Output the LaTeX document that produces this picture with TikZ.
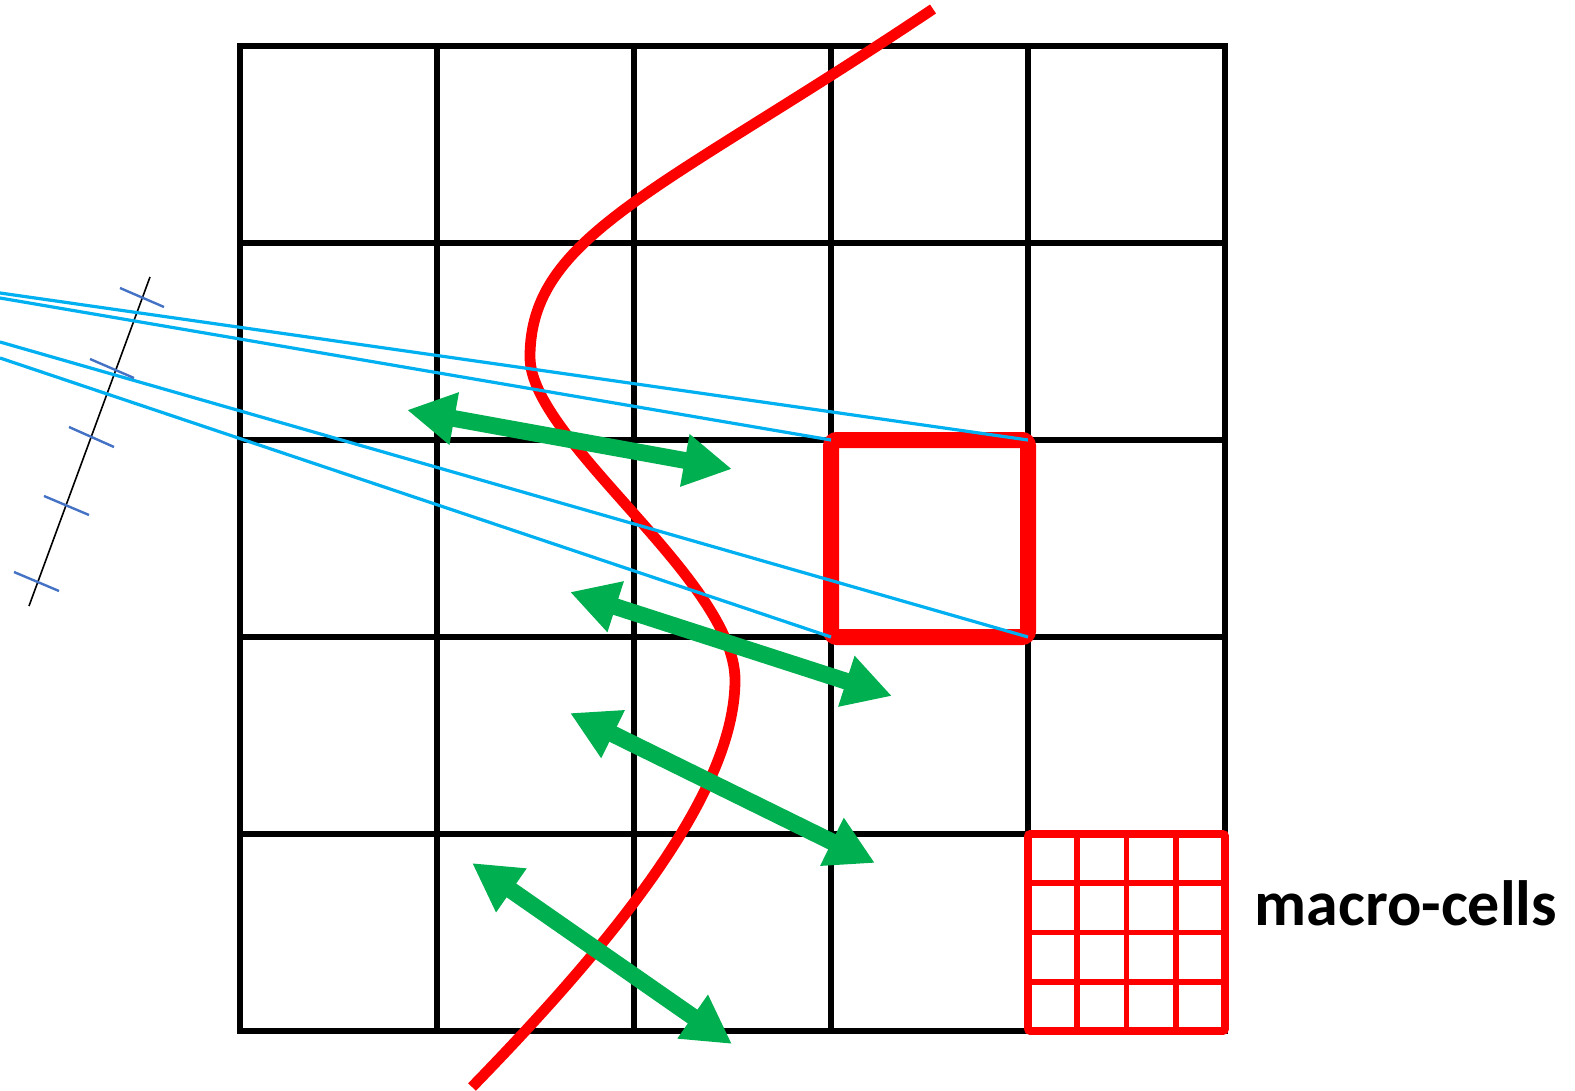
\documentclass[tikz,border=0pt]{standalone}
\usepackage{fontspec}
\setmainfont{Carlito}
\usepackage{tikz}
\usetikzlibrary{arrows.meta}
\definecolor{mred}{RGB}{255,0,0}
\definecolor{mgreen}{RGB}{0,176,80}
\definecolor{mblue}{RGB}{0,176,240}
\definecolor{mtick}{RGB}{68,114,196}

\begin{document}
\begin{tikzpicture}[
  x=0.5pt, y=-0.5pt,
  gline/.style={draw=black, line width=2.7pt, line cap=rect},
  mline/.style={draw=mred, line width=2.9pt},
  rayline/.style={draw=mblue, line width=1.6pt},
  tickline/.style={draw=mtick, line width=1.2pt},
  track/.style={draw=mred, line width=5.4pt},
  garr/.style={{Triangle[length=24pt,width=25pt]}-{Triangle[length=24pt,width=25pt]},
               draw=mgreen, fill=mgreen, line width=8.4pt},
  mlabel/.style={font=\bfseries\fontsize{32}{38}\selectfont, anchor=base},
]
  \useasboundingbox (0,0) rectangle (1575,1091);
  % 1. coarse grid
  \foreach \i in {0,...,5} {
    \draw[gline] ({240+197*\i},46) -- ({240+197*\i},1031);
    \draw[gline] (240,{46+197*\i}) -- (1225,{46+197*\i});
  }
  % 2. highlighted cell
  \coordinate (box-nw) at (831,440);
  \coordinate (box-ne) at (1028,440);
  \coordinate (box-sw) at (831,637);
  \coordinate (box-se) at (1028,637);
  \draw[draw=mred, line width=8pt, rounded corners=3pt]
    (box-nw) -- (box-ne) -- (box-se) -- (box-sw) -- cycle;
  % 3. macro-cells
  \foreach \k in {1,2,3} {
    \draw[mline] ({1028+49.25*\k},834) -- ({1028+49.25*\k},1031);
    \draw[mline] (1028,{834+49.25*\k}) -- (1225,{834+49.25*\k});
  }
  \draw[mline, line width=3.8pt, rounded corners=1pt] (1028,834) rectangle (1225,1031);
  \node[mlabel] (mlab) at (1406,925) {macro-cells};
  % 4. track
  \coordinate (trk-top) at (933,9);
  \coordinate (trk-l) at (530,357);
  \coordinate (trk-r) at (735,680);
  \coordinate (trk-bot) at (472,1087);
  \draw[track] (trk-top) .. controls (660,192) and (530,235) .. (trk-l)
    .. controls (530,440) and (735,580) .. (trk-r)
    .. controls (735,790) and (620,935) .. (trk-bot);
  % 5. green arrows
  \coordinate (a1l) at (407,410); \coordinate (a1r) at (732,469);
  \coordinate (a2l) at (570,592); \coordinate (a2r) at (892,696);
  \coordinate (a3l) at (570,713); \coordinate (a3r) at (875,863);
  \coordinate (a4l) at (472,863); \coordinate (a4r) at (732,1044);
  \foreach \a in {1,2,3,4} \draw[garr] (a\a l) -- (a\a r);
  % 6. detector and rays
  \coordinate (det-top) at (150,277);
  \coordinate (det-bot) at (29,606);
  \draw[line width=0.8pt] (det-top) -- (det-bot);
  \foreach \ya/\yb [count=\j] in {293/box-ne, 298/box-nw, 342/box-se, 358/box-sw} {
    \coordinate (ray\j) at (0,\ya);
    \draw[rayline] (ray\j) -- (\yb);
  }
  \foreach \xa/\ya/\xb/\yb in {120/288/164/307, 90/359/134/378, 69/427/114/447,
                               44/496/89/515, 14/572/59/591}
    \draw[tickline] (\xa,\ya) -- (\xb,\yb);
\end{tikzpicture}
\end{document}
